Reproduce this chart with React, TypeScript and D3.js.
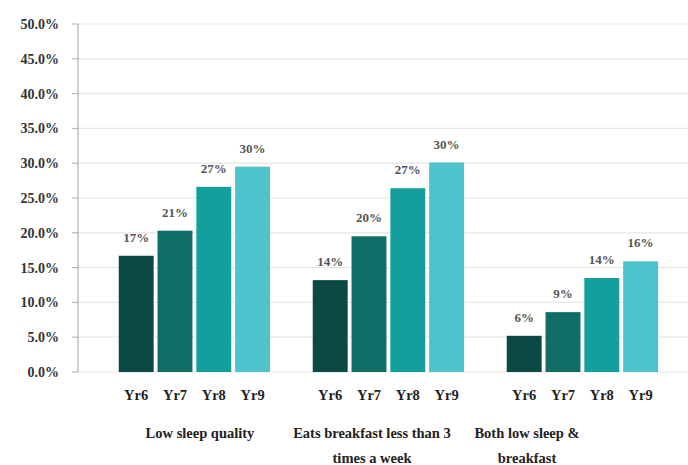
import React from "react";
import * as d3 from "d3";

const groups = ["Low sleep quality", "Eats breakfast less than 3 times a week", "Both low sleep & breakfast"];
const groupLabelLines = [["Low sleep quality"], ["Eats breakfast less than 3", "times a week"], ["Both low sleep &", "breakfast"]];
const years = ["Yr6", "Yr7", "Yr8", "Yr9"];
const lowSleep = [16.7, 20.3, 26.6, 29.5];
const breakfast = [13.2, 19.5, 26.4, 30.1];
const both = [5.2, 8.6, 13.5, 15.9];
const labelsLowSleep = ["17%", "21%", "27%", "30%"];
const labelsBreakfast = ["14%", "20%", "27%", "30%"];
const labelsBoth = ["6%", "9%", "14%", "16%"];
const yTicks = [0, 5, 10, 15, 20, 25, 30, 35, 40, 45, 50];
const colors = ["#0b4a44", "#0f6e66", "#13a09c", "#4ec3cb"];

const seriesValues = [lowSleep, breakfast, both];
const seriesLabels = [labelsLowSleep, labelsBreakfast, labelsBoth];

export default function App() {
  const W = 688, H = 465;
  const axisX = 78;
  const y = d3.scaleLinear().domain([0, 50]).range([372, 24]);
  const slotKeys: string[] = [];
  slotKeys.push("e0");
  groups.forEach((g, gi) => {
    years.forEach((yr) => slotKeys.push(`${gi}-${yr}`));
    if (gi < groups.length - 1) slotKeys.push(`e${gi + 1}`);
  });
  const x = d3.scaleBand<string>().domain(slotKeys).range([axisX, axisX + slotKeys.length * 38.8]).paddingInner(0.1).paddingOuter(0.05);
  const groupLabelX = [200, 372, 527];
  const font = "'Liberation Serif', 'Times New Roman', serif";

  return (
    <svg width={W} height={H} style={{ position: "absolute", left: 0, top: 0, background: "#fff" }}>
      {yTicks.map((t) => (
        <g key={t}>
          <line x1={axisX} x2={W} y1={y(t)} y2={y(t)} stroke="#e6e6e6" strokeWidth={1.2} />
          <line x1={axisX - 6} x2={axisX} y1={y(t)} y2={y(t)} stroke="#b0b0b0" strokeWidth={1} />
          <text x={59} y={y(t) + 5} textAnchor="end" fontFamily={font} fontWeight="bold" fontSize={14} fill="#333">
            {t.toFixed(1)}%
          </text>
        </g>
      ))}
      <line x1={axisX} x2={axisX} y1={y(50)} y2={y(0)} stroke="#b0b0b0" strokeWidth={1.2} />
      {groups.map((g, gi) =>
        years.map((yr, i) => {
          const key = `${gi}-${yr}`;
          const v = seriesValues[gi][i];
          const bx = x(key)!;
          const bw = x.bandwidth();
          return (
            <g key={key}>
              <rect x={bx} y={y(v)} width={bw} height={y(0) - y(v)} fill={colors[i]} />
              <text x={bx + bw / 2} y={y(v) - 14} textAnchor="middle" fontFamily={font} fontWeight="bold" fontSize={13} fill="#555">
                {seriesLabels[gi][i]}
              </text>
              <text x={bx + bw / 2} y={400} textAnchor="middle" fontFamily={font} fontWeight="bold" fontSize={14.5} fill="#222">
                {yr}
              </text>
            </g>
          );
        })
      )}
      {groupLabelLines.map((lines, gi) => (
        <text key={gi} x={groupLabelX[gi]} y={438} textAnchor="middle" fontFamily={font} fontWeight="bold" fontSize={14.5} fill="#222">
          {lines.map((l, li) => (
            <tspan key={li} x={groupLabelX[gi]} dy={li === 0 ? 0 : 25}>
              {l}
            </tspan>
          ))}
        </text>
      ))}
    </svg>
  );
}
